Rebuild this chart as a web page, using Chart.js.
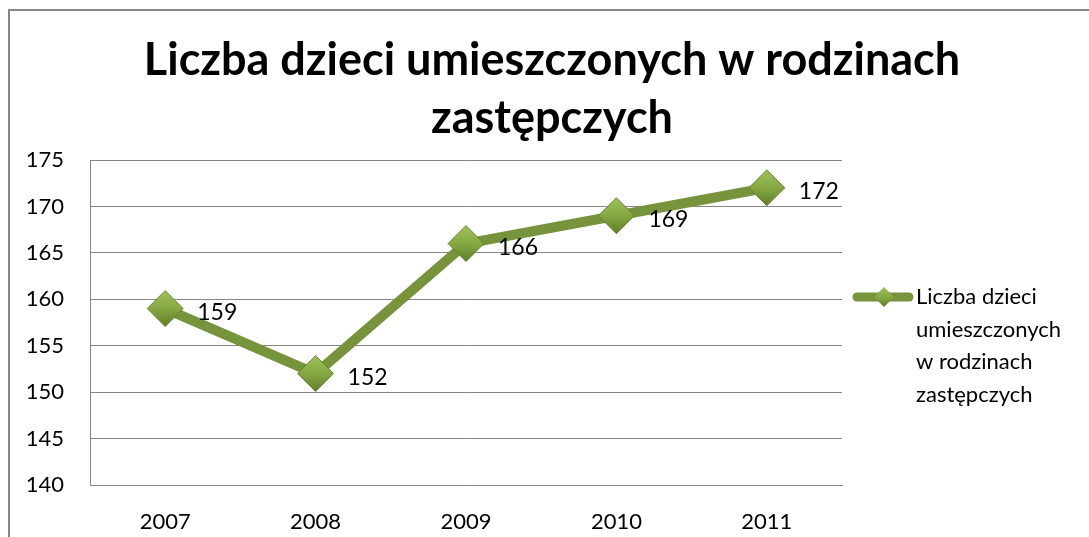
<!DOCTYPE html>
<html>
<head>
<meta charset="utf-8">
<script src="https://cdn.jsdelivr.net/npm/chart.js@4"></script>
<style>
  html, body { margin: 0; padding: 0; background: #fff; }
  canvas { display: block; }
</style>
</head>
<body>
<canvas id="chart" width="1089" height="537"></canvas>
<script>
const years = ['2007', '2008', '2009', '2010', '2011'];
const values = [159, 152, 166, 169, 172];
const seriesName = 'Liczba dzieci umieszczonych w rodzinach zastępczych';
const titleLines = ['Liczba dzieci umieszczonych w rodzinach', 'zastępczych'];
const legendLines = ['Liczba dzieci', 'umieszczonych', 'w rodzinach', 'zastępczych'];

const FONT = 'Lato, "Open Sans", sans-serif';
const LINE = '#77933C';
const GRID = '#868686';
const R = 18;

function diamondFill(ctx, y, r) {
  if (!Number.isFinite(y)) return '#86A843';
  const g = ctx.createLinearGradient(0, y - r, 0, y + r);
  g.addColorStop(0, '#9DC05A');
  g.addColorStop(0.5, '#86A843');
  g.addColorStop(1, '#5E7E26');
  return g;
}

// frame, title, legend and value labels
const decor = {
  id: 'decor',
  beforeDraw(chart) {
    const ctx = chart.ctx;
    ctx.save();
    ctx.fillStyle = '#fff';
    ctx.fillRect(0, 0, chart.width, chart.height);
    ctx.strokeStyle = GRID;
    ctx.lineWidth = 2;
    ctx.strokeRect(9, 10, 1400, 1400);

    ctx.fillStyle = '#000';
    ctx.font = 'bold 45px ' + FONT;
    ctx.textAlign = 'center';
    ctx.textBaseline = 'alphabetic';
    ctx.fillText(titleLines[0], 552, 75);
    ctx.fillText(titleLines[1], 552, 133);
    ctx.restore();
  },
  afterDatasetsDraw(chart) {
    const ctx = chart.ctx;
    const meta = chart.getDatasetMeta(0);
    ctx.save();
    ctx.fillStyle = '#000';
    ctx.font = '23px ' + FONT;
    ctx.textAlign = 'left';
    ctx.textBaseline = 'middle';
    meta.data.forEach((pt, i) => {
      ctx.fillText(String(values[i]), pt.x + 32, pt.y + 4);
    });

    // legend
    const ly = 297;
    ctx.strokeStyle = LINE;
    ctx.lineWidth = 9;
    ctx.lineCap = 'round';
    ctx.beginPath();
    ctx.moveTo(857, ly);
    ctx.lineTo(909, ly);
    ctx.stroke();
    const r = 10;
    ctx.beginPath();
    ctx.moveTo(884, ly - r);
    ctx.lineTo(884 + r, ly);
    ctx.lineTo(884, ly + r);
    ctx.lineTo(884 - r, ly);
    ctx.closePath();
    ctx.fillStyle = diamondFill(ctx, ly, r);
    ctx.fill();
    ctx.fillStyle = '#000';
    ctx.font = '22px ' + FONT;
    legendLines.forEach((t, i) => ctx.fillText(t, 916, ly + i * 32.5));
    ctx.restore();
  }
};

new Chart(document.getElementById('chart'), {
  type: 'line',
  data: {
    labels: years,
    datasets: [{
      label: seriesName,
      data: values,
      borderColor: LINE,
      borderWidth: 10,
      backgroundColor: '#8CAB48',
      pointStyle: 'rectRot',
      pointRadius: R,
      pointHoverRadius: R,
      pointBorderColor: 'rgba(90,120,35,0.8)',
      pointBorderWidth: 1,
      pointBackgroundColor(c) {
        const y = c.raw != null && c.chart.scales.y ? c.chart.scales.y.getPixelForValue(c.raw) : NaN;
        return diamondFill(c.chart.ctx, y, R);
      },
      tension: 0,
    }],
  },
  options: {
    responsive: false,
    animation: false,
    events: [],
    layout: { padding: { top: 160, left: 10, right: 247, bottom: 4 } },
    plugins: { legend: { display: false }, title: { display: false }, tooltip: { enabled: false } },
    scales: {
      x: {
        offset: true,
        grid: { display: false, drawTicks: false },
        border: { display: true, color: GRID, width: 1 },
        ticks: { color: '#000', font: { family: FONT, size: 22 }, padding: 24 },
        afterFit(scale) { scale.height = 48; },
      },
      y: {
        min: 140, max: 175,
        ticks: { stepSize: 5, color: '#000', font: { family: FONT, size: 22 }, padding: 26 },
        grid: { color: GRID, drawTicks: false },
        border: { display: true, color: GRID, width: 1 },
        afterFit(scale) { scale.width = 80; },
      },
    },
  },
  plugins: [decor],
});
</script>
</body>
</html>
